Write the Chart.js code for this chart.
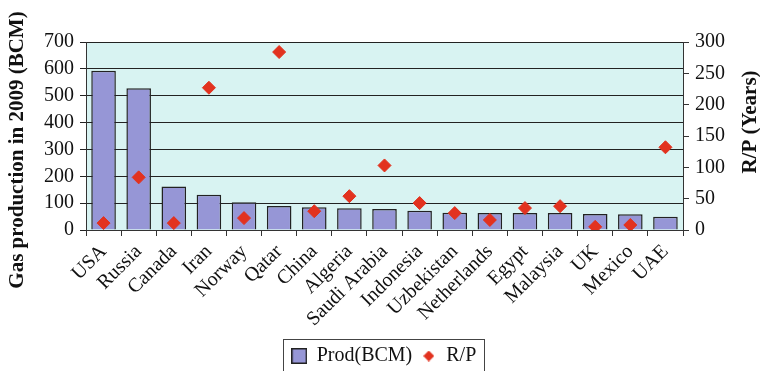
<!DOCTYPE html>
<html>
<head>
<meta charset="utf-8">
<script src="https://cdn.jsdelivr.net/npm/chart.js@4.4.1/dist/chart.umd.min.js"></script>
<style>
  html, body { margin: 0; padding: 0; background: #fff; }
  #wrap { width: 760px; height: 371px; position: relative; }
</style>
</head>
<body>
<div id="wrap"><canvas id="gasChart"></canvas></div>
<script>
const countries = ['USA', 'Russia', 'Canada', 'Iran', 'Norway', 'Qatar', 'China', 'Algeria', 'Saudi Arabia',
    'Indonesia', 'Uzbekistan', 'Netherlands', 'Egypt', 'Malaysia', 'UK', 'Mexico', 'UAE'];
const prodBCM = [593, 528, 162, 131, 103, 89, 85, 81, 78, 72, 64, 63, 63, 63, 60, 59, 49];
const rpYears = [11, 84, 11, 227, 19, 284, 30, 54, 103, 43, 27, 16, 35, 38, 5, 8, 132];
const leftTicks = [0, 100, 200, 300, 400, 500, 600, 700];
const rightTicks = [0, 50, 100, 150, 200, 250, 300];

const serif = 'Liberation Serif';
const barColor = '#9696d6';
const dotColor = '#e2321f';

// small legend symbols
function legendSquare() {
    const cv = document.createElement('canvas');
    cv.width = 16; cv.height = 16;
    const c = cv.getContext('2d');
    c.fillStyle = barColor;
    c.fillRect(1, 1, 14, 14);
    c.strokeStyle = '#222';
    c.lineWidth = 1.5;
    c.strokeRect(0.75, 0.75, 14.5, 14.5);
    return cv;
}
function legendDiamond() {
    const cv = document.createElement('canvas');
    cv.width = 11; cv.height = 11;
    const c = cv.getContext('2d');
    c.fillStyle = dotColor;
    c.beginPath();
    c.moveTo(5.5, 0); c.lineTo(11, 5.5); c.lineTo(5.5, 11); c.lineTo(0, 5.5);
    c.closePath();
    c.fill();
    return cv;
}
const squareImg = legendSquare();
const diamondImg = legendDiamond();

// light cyan plot background, both axis titles, box round the legend items
const decor = {
    id: 'decor',
    beforeDraw(chart) {
        const a = chart.chartArea, c = chart.ctx;
        c.save();
        c.fillStyle = '#d8f3f2';
        c.fillRect(a.left, a.top, a.right - a.left, a.bottom - a.top);
        c.restore();
    },
    afterDraw(chart) {
        const c = chart.ctx;
        c.save();
        c.font = 'bold 21px ' + serif;
        c.fillStyle = '#111';
        c.textAlign = 'center';
        c.textBaseline = 'middle';
        c.save();
        c.translate(18, 150);
        c.rotate(-Math.PI / 2);
        c.fillText('Gas production in 2009 (BCM)', 0, 0);
        c.restore();
        c.translate(751, 122);
        c.rotate(-Math.PI / 2);
        c.fillText('R/P (Years)', 0, 0);
        c.restore();

        const boxes = chart.legend.legendHitBoxes;
        if (boxes && boxes.length) {
            const x0 = boxes[0].left - 9;
            const last = boxes[boxes.length - 1];
            const x1 = last.left + last.width + 7;
            c.save();
            c.strokeStyle = '#444';
            c.lineWidth = 1;
            c.strokeRect(Math.round(x0) + 0.5, 339.5, Math.round(x1 - x0), 40);
            c.restore();
        }
    }
};

new Chart(document.getElementById('gasChart'), {
    type: 'bar',
    data: {
        labels: countries,
        datasets: [{
            label: 'Prod(BCM)',
            data: prodBCM,
            backgroundColor: barColor,
            borderColor: '#222',
            borderWidth: 1.5,
            barPercentage: 0.7,
            categoryPercentage: 1,
            yAxisID: 'y',
            order: 2
        }, {
            type: 'line',
            label: 'R/P',
            data: rpYears,
            showLine: false,
            pointStyle: 'rectRot',
            pointRadius: 6.5,
            pointBackgroundColor: dotColor,
            pointBorderColor: dotColor,
            yAxisID: 'y1',
            order: 1
        }]
    },
    options: {
        responsive: true,
        maintainAspectRatio: false,
        animation: false,
        layout: { padding: { left: 8, right: 0, top: 42, bottom: -5 } },
        scales: {
            x: {
                offset: true,
                afterFit: s => { s.height = 107; },
                grid: { offset: true, drawOnChartArea: false, color: '#333', tickLength: 6 },
                border: { color: '#333' },
                ticks: {
                    color: '#111', font: { family: serif, size: 20 },
                    autoSkip: false,
                    maxRotation: 45, minRotation: 45, padding: 4
                }
            },
            y: {
                position: 'left',
                min: 0, max: 700,
                afterFit: s => { s.width = 78; },
                afterBuildTicks: s => { s.ticks = leftTicks.map(v => ({ value: v })); },
                grid: { color: '#222', tickLength: 6 },
                border: { color: '#333' },
                ticks: { color: '#111', font: { family: serif, size: 20 }, padding: 6, autoSkip: false }
            },
            y1: {
                position: 'right',
                min: 0, max: 300,
                afterFit: s => { s.width = 77; },
                afterBuildTicks: s => { s.ticks = rightTicks.map(v => ({ value: v })); },
                grid: { drawOnChartArea: false, color: '#333', tickLength: 6 },
                border: { color: '#333' },
                ticks: { color: '#111', font: { family: serif, size: 20 }, padding: 6, autoSkip: false }
            }
        },
        plugins: {
            legend: {
                position: 'bottom',
                labels: {
                    color: '#111',
                    font: { family: serif, size: 20 },
                    usePointStyle: true,
                    boxWidth: 15,
                    boxHeight: 15,
                    padding: 9,
                    sort: (a, b) => a.datasetIndex - b.datasetIndex,
                    generateLabels(chart) {
                        const items = Chart.defaults.plugins.legend.labels.generateLabels(chart);
                        items.forEach(it => {
                            it.pointStyle = it.datasetIndex === 0 ? squareImg : diamondImg;
                        });
                        return items;
                    }
                }
            },
            tooltip: { enabled: false }
        }
    },
    plugins: [decor]
});
</script>
</body>
</html>
